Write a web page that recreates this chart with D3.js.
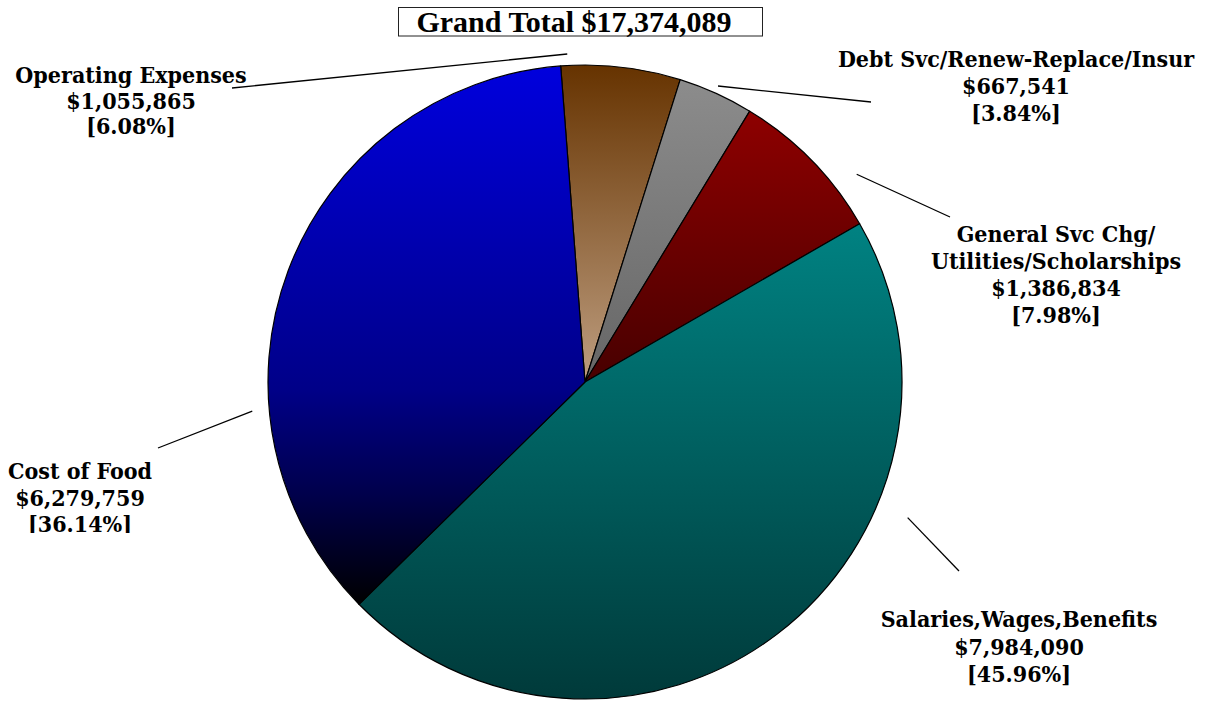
<!DOCTYPE html>
<html>
<head>
<meta charset="utf-8">
<script src="https://cdn.jsdelivr.net/npm/d3@7"></script>
<style>
  html, body { margin: 0; padding: 0; background: #ffffff; }
  svg { display: block; }
</style>
</head>
<body>
<svg id="chart" width="1209" height="701"></svg>
<script>
// ---- Budget data -------------------------------------------------------
const categories = [
  "Operating Expenses",
  "Debt Svc/Renew-Replace/Insur",
  "General Svc Chg/Utilities/Scholarships",
  "Salaries,Wages,Benefits",
  "Cost of Food"
];
// how each category name is broken into label lines
const nameLines = [
  ["Operating Expenses"],
  ["Debt Svc/Renew-Replace/Insur"],
  ["General Svc Chg/", "Utilities/Scholarships"],
  ["Salaries,Wages,Benefits"],
  ["Cost of Food"]
];
const amounts  = [1055865, 667541, 1386834, 7984090, 6279759];
const percents = [6.08, 3.84, 7.98, 45.96, 36.14];
const grandTotal = 17374089;

// ---- Appearance ---------------------------------------------------------
// vertical gradient stops for each slice: [offset, colour]
const sliceGradients = [
  [[0, "#663300"], [1, "#BE9E80"]],
  [[0, "#8C8C8C"], [1, "#666666"]],
  [[0, "#8E0000"], [1, "#470000"]],
  [[0, "#008282"], [1, "#003A3A"]],
  [[0, "#0000DD"], [0.6, "#000088"], [0.8, "#00004A"], [1, "#000000"]]
];

const cx = 585, cy = 382, radius = 317;
const startDeg = -4.4;

// label placement: centre x, first baseline, line step,
// leader inner end (polar, relative to pie centre) and outer end
const labelLayout = [
  { x: 131,  y: 83,  step: 25.5, innerDeg: -3.1, innerR: 328.5, outer: [232, 88] },
  { x: 1016, y: 67,  step: 27,   innerDeg: 24.2, innerR: 324.5, outer: [871, 102] },
  { x: 1056, y: 242, step: 27,   innerDeg: 52.6, innerR: 342,   outer: [950, 217] },
  { x: 1019, y: 627, step: 27.5, innerDeg: 112.8, innerR: 350,  outer: [959, 571] },
  { x: 80,   y: 479, step: 26.5, innerDeg: 265,  innerR: 334,   outer: [158, 448], clipBottom: 533 }
];

const labelFont = "'DejaVu Serif Condensed', 'DejaVu Serif', serif";
const titleFont = "'Liberation Serif', 'Times New Roman', serif";

// ---- Drawing ------------------------------------------------------------
const svg = d3.select("#chart");
const defs = svg.append("defs");
const rad = d => d * Math.PI / 180;
const fmtMoney = v => "$" + d3.format(",")(v);

const slices = categories.map((c, i) => ({
  name: c, amount: amounts[i], pct: percents[i], idx: i
}));

const pie = d3.pie()
  .value(d => d.amount)
  .sort(null)
  .startAngle(rad(startDeg))
  .endAngle(rad(startDeg + 360));

const arc = d3.arc().innerRadius(0).outerRadius(radius);

sliceGradients.forEach((stops, i) => {
  const g = defs.append("linearGradient")
    .attr("id", "grad" + i)
    .attr("x1", 0).attr("y1", 0).attr("x2", 0).attr("y2", 1);
  stops.forEach(([o, c]) => g.append("stop").attr("offset", o).attr("stop-color", c));
});

const pieG = svg.append("g").attr("transform", `translate(${cx},${cy})`);

pieG.selectAll("path.slice")
  .data(pie(slices))
  .join("path")
  .attr("class", "slice")
  .attr("d", arc)
  .attr("fill", d => `url(#grad${d.data.idx})`)
  .attr("stroke", "#000")
  .attr("stroke-width", 1.2)
  .attr("stroke-linejoin", "round");

// leader lines
labelLayout.forEach((L, i) => {
  const a = rad(L.innerDeg);
  const x1 = cx + L.innerR * Math.sin(a);
  const y1 = cy - L.innerR * Math.cos(a);
  svg.append("line")
    .attr("x1", x1).attr("y1", y1)
    .attr("x2", L.outer[0]).attr("y2", L.outer[1])
    .attr("stroke", "#000").attr("stroke-width", 1.3);
});

// data labels
slices.forEach((s, i) => {
  const L = labelLayout[i];
  const lines = nameLines[i].concat([fmtMoney(s.amount), "[" + s.pct.toFixed(2) + "%]"]);
  const g = svg.append("g");
  if (L.clipBottom) {
    defs.append("clipPath").attr("id", "clip" + i)
      .append("rect").attr("x", 0).attr("y", 0).attr("width", 1209).attr("height", L.clipBottom);
    g.attr("clip-path", `url(#clip${i})`);
  }
  g.selectAll("text")
    .data(lines)
    .join("text")
    .attr("x", L.x)
    .attr("y", (d, k) => L.y + k * L.step)
    .attr("text-anchor", "middle")
    .attr("font-family", labelFont)
    .attr("font-weight", "bold")
    .attr("font-size", 23)
    .attr("fill", "#000")
    .text(d => d);
});

// title box
const title = svg.append("g");
title.append("rect")
  .attr("x", 398.5).attr("y", 7.5)
  .attr("width", 364).attr("height", 28.5)
  .attr("fill", "#fff")
  .attr("stroke", "#222").attr("stroke-width", 1);
title.append("text")
  .attr("x", 574).attr("y", 32)
  .attr("text-anchor", "middle")
  .attr("font-family", titleFont)
  .attr("font-weight", "bold")
  .attr("font-size", 30)
  .attr("fill", "#000")
  .text("Grand Total " + fmtMoney(grandTotal));
</script>
</body>
</html>
